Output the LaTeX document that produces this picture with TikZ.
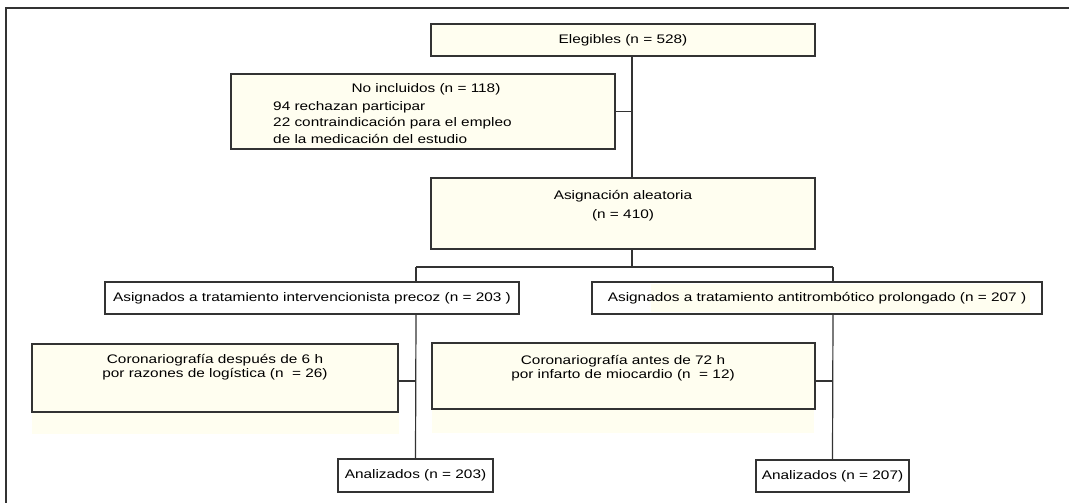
\documentclass[tikz,border=0pt]{standalone}
\usepackage{fontspec}
\setmainfont{Liberation Sans}[FakeStretch=1.24]
\usetikzlibrary{calc}
\definecolor{cream}{HTML}{FFFEF0}
\definecolor{edge}{HTML}{333333}

\begin{document}
\begin{tikzpicture}[x=1pt, y=-1pt,
 box/.style={draw=edge, fill=cream, inner sep=0pt, line width=1.2pt},
 plain/.style={draw=edge, fill=white, inner sep=0pt, line width=1.2pt},
 txt/.style={inner sep=0pt, align=center},
 link/.style={draw=edge, line width=1.2pt},
 font=\fontsize{12.4}{13.5}\selectfont]
 \useasboundingbox (0,0) rectangle (1069,503);
 \draw[edge, line width=1.5pt] (6,8) rectangle (1090,520);
 % enrolment
 \node[box, minimum width=384pt, minimum height=32pt] (eleg) at (623,40) {Elegibles (n = 528)};
 \node[box, minimum width=384pt, minimum height=75pt] (excl) at (423,111.5) {};
 \node[txt] (excl-head) at (426,89) {No incluidos (n = 118)};
 \node[txt, align=left, anchor=west, font=\fontsize{12.4}{16.5}\selectfont] (excl-list) at (273,122.5) {94 rechazan participar\\22 contraindicación para el empleo\\de la medicación del estudio};
 \node[box, minimum width=384pt, minimum height=71pt] (asig) at (623,213.5) {};
 \node[txt, font=\fontsize{12.4}{19}\selectfont] (asig-txt) at (623,206) {Asignación aleatoria\\(n = 410)};
 \coordinate (spine) at (632,113);
 \coordinate (lbranch) at (416,267);
 \coordinate (rbranch) at (833,267);
 % allocation
 \node[plain, minimum width=414pt, minimum height=32pt] (armA) at (312,298) {Asignados a tratamiento intervencionista precoz (n = 203 )};
 \fill[cream] (651,284) rectangle (1030,312);
 \node[draw=edge, line width=1.2pt, inner sep=0pt, minimum width=450pt, minimum height=32pt] (armB) at (817,298) {Asignados a tratamiento antitrombótico prolongado (n = 207 )};
 % cross-overs
 \node[box, minimum width=366pt, minimum height=68pt] (corA) at (215,378) {};
 \fill[cream] ($(corA.south west)+(0.6,0.6)$) rectangle ($(corA.south east)+(0,21)$);
 \node[txt] (corA-txt) at (215,367) {Coronariografía después de 6 h\\por razones de logística (n \ = 26)};
 \node[box, minimum width=383pt, minimum height=66pt] (corB) at (623.5,376) {};
 \fill[cream] ($(corB.south west)+(0.6,0.6)$) rectangle ($(corB.south east)+(-2,23)$);
 \node[txt] (corB-txt) at (623,368) {Coronariografía antes de 72 h\\por infarto de miocardio (n \ = 12)};
 % analysis
 \node[plain, minimum width=155pt, minimum height=33pt] (analA) at (415.5,475.5) {Analizados (n = 203)};
 \node[plain, minimum width=153pt, minimum height=32pt] (analB) at (832.5,476) {Analizados (n = 207)};
 \draw[link] (eleg.south -| spine) -- (asig.north -| spine);
 \draw[link] (excl.east) -- (excl.east -| spine);
 \draw[link] (asig.south -| spine) -- (spine |- lbranch);
 \draw[link] (lbranch) -- (rbranch);
 \draw[link] (lbranch) -- (lbranch |- armA.north);
 \draw[link] (rbranch) -- (rbranch |- armB.north);
 \draw[link] (armA.south -| lbranch) -- (analA.north);
 \draw[link] (armB.south -| rbranch) -- (analB.north);
 \draw[link] ($(corA.east)+(0,3)$) -- ($(corA.east -| lbranch)+(0,3)$);
 \draw[link] ($(corB.east)+(0,5)$) -- ($(corB.east -| rbranch)+(0,5)$);
\end{tikzpicture}
\end{document}
